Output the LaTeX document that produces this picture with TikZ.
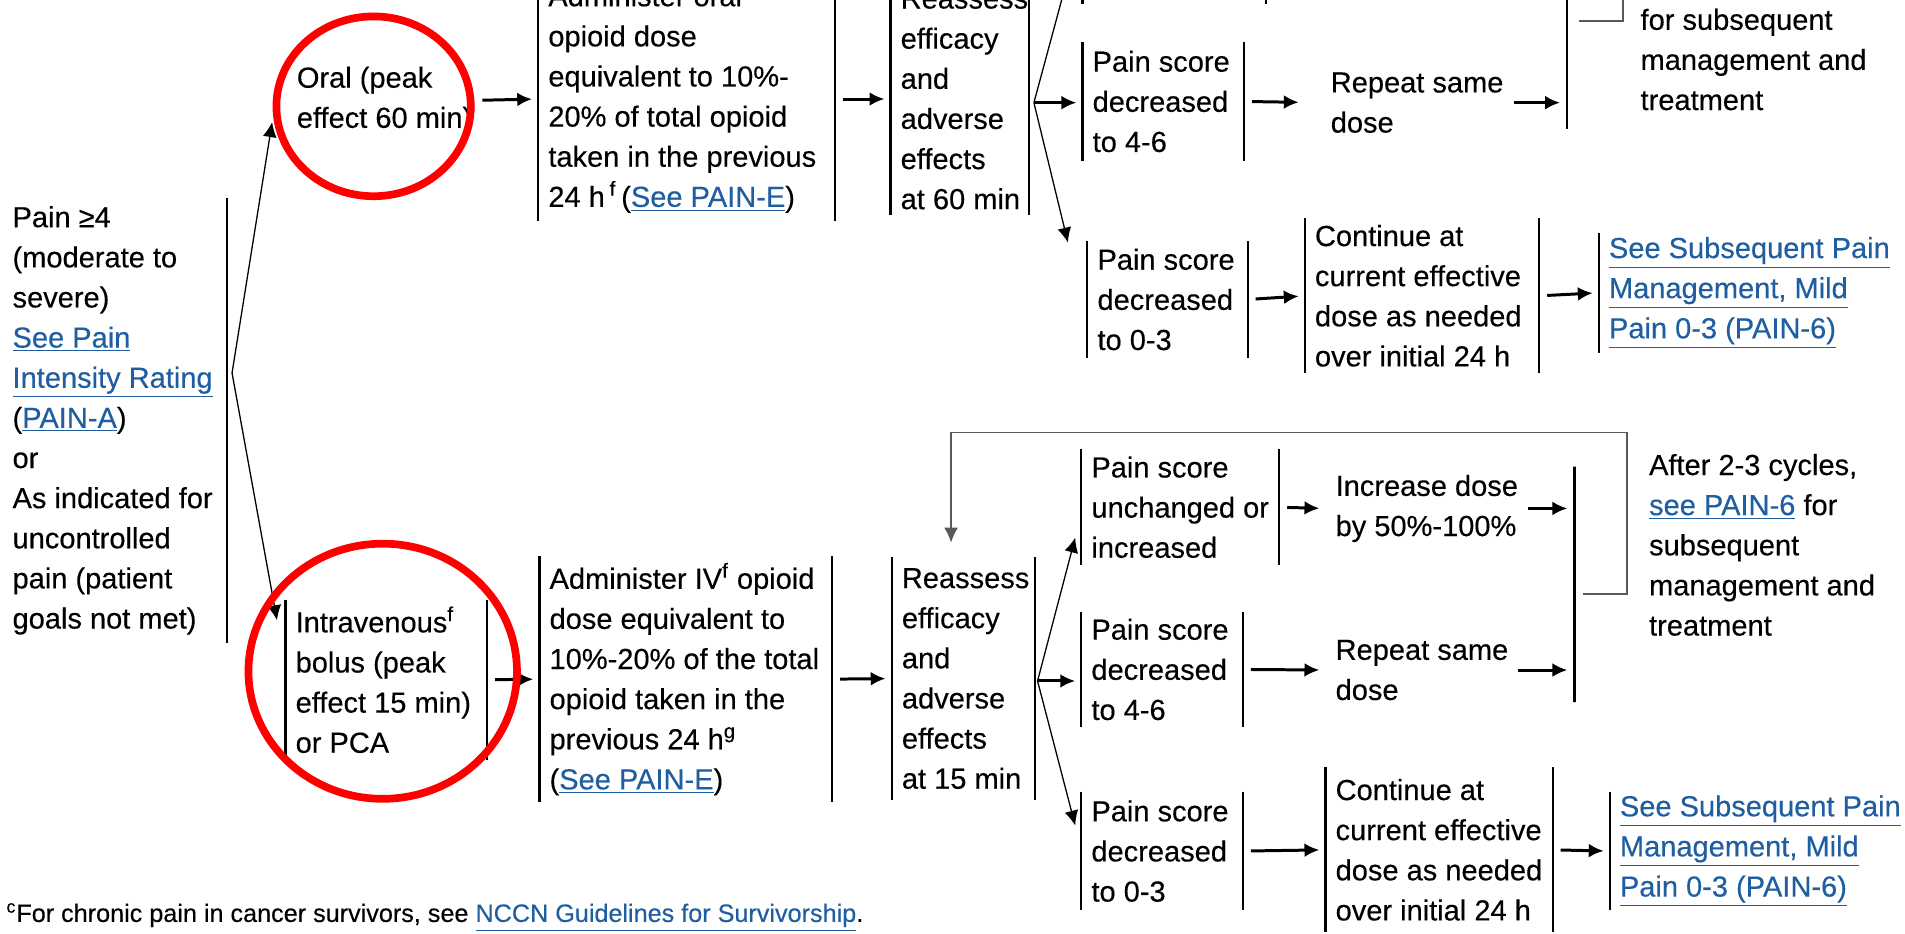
\documentclass[tikz,border=0pt]{standalone}
\usepackage{fontspec}
\setmainfont{Liberation Sans}[UprightFeatures={FakeBold=0.3}]
\usepackage{tikz}
\usetikzlibrary{arrows.meta, calc, shapes.geometric}
\definecolor{colorLink}{RGB}{31,94,160}
\colorlet{colorRing}{red}
\colorlet{colorLoop}{black!65}
\newcommand{\lnk}[1]{\textcolor{colorLink}{\underline{#1}}}
\tikzset{
  txt/.style={font=\fontsize{13.6}{18.8}\selectfont, align=left, anchor=west, inner xsep=0.16cm, inner ysep=0pt},
  bar/.style={line width=1pt, black},
  boxh/.style={minimum height=#1*0.02cm},
  lbar/.style={append after command={\pgfextra{\let\curbox\tikzlastnode
    \draw[bar] (\curbox.north west) -- (\curbox.south west);}}},
  rbar/.style={append after command={\pgfextra{\let\curbox\tikzlastnode
    \draw[bar] ($(\curbox.north west)+(#1,0)$) -- ($(\curbox.south west)+(#1,0)$);
    \coordinate (\curbox-r) at ($(\curbox.west)+(#1,0)$);}}},
  vbar/.style={draw, line width=1pt, minimum width=0pt, inner sep=0pt, minimum height=#1*0.02cm},
  flow/.style={->, line width=1.4pt, shorten <=0.13cm, shorten >=0.1cm},
  fork/.style={->, line width=0.6pt},
  back/.style={->, colorLoop, line width=0.8pt},
  ring/.style 2 args={ellipse, draw=colorRing, line width=3.6pt, inner sep=0pt, minimum width=#1*0.02cm, minimum height=#2*0.02cm}
}
\begin{document}
\begin{tikzpicture}[x=0.02cm, y=-0.02cm, >={Latex[length=7pt,width=6.5pt]}]
\useasboundingbox (0,0) rectangle (1568,768);
\clip (0,0) rectangle (1568,768);
\node[txt, rbar=185, boxh=365] (pain) at (2,346) {Pain ≥4\\(moderate to\\severe)\\\lnk{See Pain}\\\lnk{Intensity Rating}\\(\lnk{PAIN-A})\\or\\As indicated for\\uncontrolled\\pain (patient\\goals not met)};
\node[txt] (oral) at (236,82.5) {Oral (peak\\effect 60 min)};
\node[txt, lbar, rbar=244, boxh=200] (admoral) at (443,81.5) {Administer oral\\opioid dose\\equivalent to 10\%-\\20\% of total opioid\\taken in the previous\\24 h\,\textsuperscript{f}\,(\lnk{See PAIN-E})};
\node[txt, lbar, rbar=114, boxh=191] (reass60) at (733,81.5) {Reassess\\efficacy\\and\\adverse\\effects\\at 60 min};
\node[txt, lbar, rbar=151, boxh=96] (incr60) at (891,-45) {};
\node[txt, lbar, rbar=133, boxh=97] (dec46a) at (891,83.5) {Pain score\\decreased\\to 4-6};
\node[txt] (rep60) at (1087,84.5) {Repeat same\\dose};
\node[vbar=194] (merge60) at (1290,9) {};
\node[txt] (treat60) at (1342,49) {for subsequent\\management and\\treatment};
\node[txt, lbar, rbar=132, boxh=95] (dec03a) at (895,246.5) {Pain score\\decreased\\to 0-3};
\node[txt, lbar, rbar=193, boxh=127] (cont60) at (1074,243.5) {Continue at\\current effective\\dose as needed\\over initial 24 h};
\node[txt, lbar, boxh=98] (sub60) at (1316,241) {\lnk{See Subsequent Pain}\\\lnk{Management, Mild}\\\lnk{Pain 0-3 (PAIN-6)}};
\node[txt, lbar, rbar=166, boxh=131] (iv) at (235,559.5) {Intravenous\textsuperscript{f}\\bolus (peak\\effect 15 min)\\or PCA};
\node[txt, lbar, rbar=241, boxh=202] (admiv) at (444,559) {Administer IV\textsuperscript{f} opioid\\dose equivalent to\\10\%-20\% of the total\\opioid taken in the\\previous 24 h\textsuperscript{g}\\(\lnk{See PAIN-E})};
\node[txt, lbar, rbar=118, boxh=199] (reass15) at (734,558.5) {Reassess\\efficacy\\and\\adverse\\effects\\at 15 min};
\node[txt, lbar, rbar=163, boxh=95] (incr15) at (890,417.5) {Pain score\\unchanged or\\increased};
\node[txt] (incdose) at (1091,418.5) {Increase dose\\by 50\%-100\%};
\node[txt, lbar, rbar=133, boxh=94] (dec46b) at (890,551) {Pain score\\decreased\\to 4-6};
\node[txt] (rep15) at (1091,551.5) {Repeat same\\dose};
\node[vbar=194] (merge15) at (1296,481) {};
\node[txt] (after15) at (1349,448.5) {After 2-3 cycles,\\\lnk{see PAIN-6} for\\subsequent\\management and\\treatment};
\node[txt, lbar, rbar=133, boxh=97] (dec03b) at (890,700.5) {Pain score\\decreased\\to 0-3};
\node[txt, lbar, rbar=187, boxh=135] (cont15) at (1091,699.5) {Continue at\\current effective\\dose as needed\\over initial 24 h};
\node[txt, lbar, boxh=97] (sub15) at (1325,700.5) {\lnk{See Subsequent Pain}\\\lnk{Management, Mild}\\\lnk{Pain 0-3 (PAIN-6)}};
\node[txt, font=\fontsize{11.8}{14}\selectfont, inner xsep=0pt] (note) at (5,755) {\textsuperscript{c}For chronic pain in cancer survivors, see \lnk{NCCN Guidelines for Survivorship}.};
\coordinate (painfork) at ([shift={(4,-39)}]pain-r);
\coordinate (fork60) at ([shift={(4,3)}]reass60-r);
\coordinate (fork15) at ([shift={(2,2)}]reass15-r);
\draw[fork] (painfork) -- ([shift={(-12,18)}]oral.west);
\draw[fork] (painfork) -- ([shift={(-7,-49)}]iv.west);
\draw[flow, shorten <=0pt] (oral.east) -- (admoral.west);
\draw[flow] (admoral-r) -- (reass60.west);
\draw[fork] (fork60) -- ([xshift=-0.1cm]incr60.west);
\draw[flow, shorten <=0pt] (fork60) -- (fork60 -| dec46a.west);
\draw[fork] (fork60) -- ([shift={(-16,1)}]dec03a.north west);
\draw[flow, shorten >=0.36cm] (dec46a-r) -- (rep60.west);
\draw[flow, shorten <=0pt] (rep60.east) -- (rep60.east -| merge60.west);
\draw[back] ([shift={(10,8)}]merge60.center) -- ++(36,0) -- ++(0,-133) -| ([shift={(-12,-12)}]reass60.north);
\draw[flow] (dec03a-r) -- (cont60.west);
\draw[flow] (cont60-r) -- (sub60.west);
\draw[flow] (iv-r) -- (admiv.west);
\draw[flow] (admiv-r) -- (reass15.west);
\draw[fork] (fork15) -- ([shift={(-5,25)}]incr15.west);
\draw[flow, shorten <=0pt] (fork15) -- (fork15 -| dec46b.west);
\draw[fork] (fork15) -- ([shift={(-5,-21)}]dec03b.west);
\draw[flow] (incr15-r) -- (incdose.west);
\draw[flow, shorten <=0pt] (incdose.east) -- (incdose.east -| merge15.west);
\draw[flow] (dec46b-r) -- (rep15.west);
\draw[flow, shorten <=0pt] (rep15.east) -- (rep15.east -| merge15.west);
\draw[back] ([shift={(7,8)}]merge15.center) -- ++(36,0) -- ++(0,-133) -| ([shift={(-12,-12)}]reass15.north);
\draw[flow] (dec03b-r) -- (cont15.west);
\draw[flow] (cont15-r) -- (sub15.west);
\node[ring={160}{148}] (oralring) at (307.5,87.5) {};
\node[ring={221}{210}] (ivring) at (315,552.5) {};
\end{tikzpicture}
\end{document}
